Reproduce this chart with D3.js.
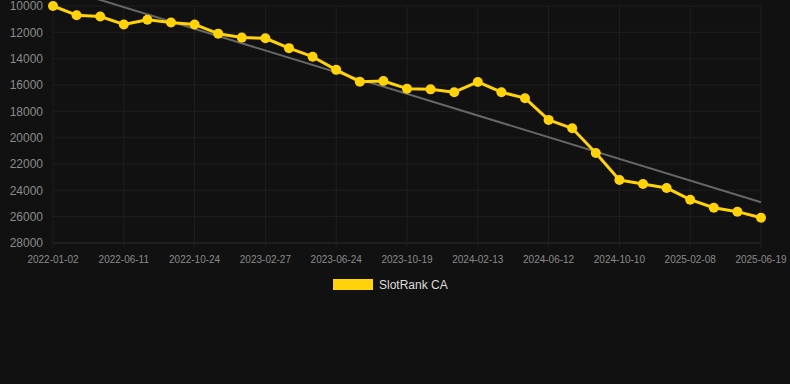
<!DOCTYPE html>
<html>
<head>
<meta charset="utf-8">
<script src="https://cdn.jsdelivr.net/npm/d3@7"></script>
<style>
  html, body { margin: 0; padding: 0; background: #111111; }
  svg { display: block; }
</style>
</head>
<body>
<svg id="chart" width="790" height="384"></svg>
<script>
// values
const dates = [
  '2022-01-02', '2022-02-24', '2022-04-18', '2022-06-11', '2022-08-03', '2022-09-26',
  '2022-10-24', '2022-12-16', '2023-02-07', '2023-02-27', '2023-04-21', '2023-05-14',
  '2023-06-24', '2023-08-16', '2023-09-08', '2023-10-19', '2023-11-30', '2024-01-02',
  '2024-02-13', '2024-03-27', '2024-05-09', '2024-06-12', '2024-07-25', '2024-08-27',
  '2024-10-10', '2024-11-22', '2024-12-26', '2025-02-08', '2025-03-23', '2025-05-05',
  '2025-06-19'
];
const rank = [
  10000, 10700, 10800, 11400, 11050, 11250, 11400, 12100, 12400, 12450, 13200,
  13850, 14850, 15750, 15700, 16280, 16330, 16550, 15770, 16550, 17000, 18650,
  19290, 21160, 23220, 23520, 23820, 24710, 25320, 25620, 26080
];
const yTicks = [10000, 12000, 14000, 16000, 18000, 20000, 22000, 24000, 26000, 28000];
const seriesName = 'SlotRank CA';

const margin = { left: 53, right: 29, top: 6, bottom: 141 };
const width = 790, height = 384;

const svg = d3.select('#chart');

const x = d3.scalePoint()
  .domain(d3.range(dates.length))
  .range([margin.left, width - margin.right]);

const y = d3.scaleLinear()
  .domain([10000, 28000])
  .range([margin.top, height - margin.bottom]);

const labelIdx = d3.range(0, dates.length, 3);

// grid
const grid = svg.append('g');
grid.selectAll('line.h')
  .data(yTicks)
  .join('line')
  .attr('x1', margin.left).attr('x2', width - margin.right)
  .attr('y1', d => y(d)).attr('y2', d => y(d))
  .attr('stroke', d => d === 28000 ? '#2e2e2e' : '#1f1f1f')
  .attr('stroke-width', 1);
grid.selectAll('line.v')
  .data(labelIdx)
  .join('line')
  .attr('x1', d => x(d)).attr('x2', d => x(d))
  .attr('y1', margin.top).attr('y2', y(28000) + 5)
  .attr('stroke', '#1f1f1f')
  .attr('stroke-width', 1);

// y labels
svg.append('g')
  .selectAll('text')
  .data(yTicks)
  .join('text')
  .attr('x', 43)
  .attr('y', d => y(d))
  .attr('dy', '0.35em')
  .attr('text-anchor', 'end')
  .attr('fill', '#8a8a8a')
  .attr('font-family', 'Liberation Sans, Arial, sans-serif')
  .attr('font-size', 12)
  .text(d => d);

// x labels
svg.append('g')
  .selectAll('text')
  .data(labelIdx)
  .join('text')
  .attr('x', d => x(d))
  .attr('y', y(28000) + 20)
  .attr('text-anchor', 'middle')
  .attr('fill', '#8a8a8a')
  .attr('font-family', 'Liberation Sans, Arial, sans-serif')
  .attr('font-size', 10)
  .text(d => dates[d]);

// trend line (least squares)
const n = rank.length;
const mx = d3.mean(d3.range(n)), my = d3.mean(rank);
const slope = d3.sum(rank, (v, i) => (i - mx) * (v - my)) / d3.sum(d3.range(n), i => (i - mx) ** 2);
const trend = i => my + slope * (i - mx);

svg.append('clipPath').attr('id', 'clip')
  .append('rect')
  .attr('x', 0).attr('y', margin.top - 6)
  .attr('width', width).attr('height', height);

svg.append('line')
  .attr('clip-path', 'url(#clip)')
  .attr('x1', x(0)).attr('y1', y(trend(0)))
  .attr('x2', x(n - 1)).attr('y2', y(trend(n - 1)))
  .attr('stroke', '#666')
  .attr('stroke-width', 2);

// series
const line = d3.line()
  .x((d, i) => x(i))
  .y(d => y(d));

svg.append('path')
  .datum(rank)
  .attr('d', line)
  .attr('fill', 'none')
  .attr('stroke', '#ffd20a')
  .attr('stroke-width', 3)
  .attr('stroke-linejoin', 'round');

svg.append('g')
  .selectAll('circle')
  .data(rank)
  .join('circle')
  .attr('cx', (d, i) => x(i))
  .attr('cy', d => y(d))
  .attr('r', 5)
  .attr('fill', '#ffd20a');

// legend
const legend = svg.append('g');
legend.append('rect')
  .attr('x', 333).attr('y', 279)
  .attr('width', 40).attr('height', 11)
  .attr('fill', '#ffd20a');
legend.append('text')
  .attr('x', 379).attr('y', 285)
  .attr('dy', '0.35em')
  .attr('fill', '#dddddd')
  .attr('font-family', 'Liberation Sans, Arial, sans-serif')
  .attr('font-size', 12)
  .text(seriesName);
</script>
</body>
</html>
